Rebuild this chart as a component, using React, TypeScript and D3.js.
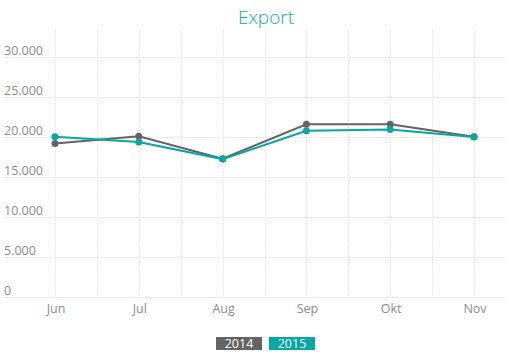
import { useEffect, useRef } from "react";
import * as d3 from "d3";

const months = ["Jun", "Jul", "Aug", "Sep", "Okt", "Nov"];
const values2014 = [19200, 20100, 17300, 21600, 21600, 20050];
const values2015 = [20050, 19400, 17250, 20800, 20950, 20000];
const yTicks = [0, 5000, 10000, 15000, 20000, 25000, 30000];
const seriesNames = ["2014", "2015"];

const colors: { [key: string]: string } = {
  "2014": "#646464",
  "2015": "#06a8a3",
};

const font = "'Open Sans', 'Segoe UI', sans-serif";

export default function App() {
  const svgRef = useRef<SVGSVGElement>(null);

  useEffect(() => {
    if (!svgRef.current) return;
    const width = 508;
    const height = 359;

    d3.select(svgRef.current).selectAll("*").remove();
    const svg = d3
      .select(svgRef.current)
      .attr("width", width)
      .attr("height", height);

    const x = d3.scalePoint<string>().domain(months).range([55, 474]);
    const y = d3.scaleLinear().domain([0, 33400]).range([297, 30]);

    const fmt = d3.formatLocale({
      decimal: ",",
      thousands: ".",
      grouping: [3],
      currency: ["", "€"],
    }).format(",d");

    // Title
    svg
      .append("text")
      .attr("x", 266)
      .attr("y", 24)
      .attr("text-anchor", "middle")
      .attr("fill", "#12aba6")
      .style("font-family", font)
      .style("font-weight", 300)
      .style("font-size", "19px")
      .text("Export");

    // Vertical grid (at categories and in between)
    const step = x.step();
    const vx: number[] = [];
    months.forEach((m, i) => {
      vx.push(x(m) as number);
      if (i < months.length - 1) vx.push((x(m) as number) + step / 2);
    });
    svg
      .append("g")
      .selectAll("line")
      .data(vx)
      .enter()
      .append("line")
      .attr("x1", (d) => Math.round(d) + 0.5)
      .attr("x2", (d) => Math.round(d) + 0.5)
      .attr("y1", y(33400))
      .attr("y2", y(0))
      .attr("stroke", "#e8e8e8")
      .attr("stroke-dasharray", "2,1");

    // Horizontal grid + y labels
    const yAxis = svg.append("g");
    yAxis
      .selectAll("line")
      .data(yTicks)
      .enter()
      .append("line")
      .attr("x1", 4)
      .attr("x2", 508)
      .attr("y1", (d) => Math.round(y(d)) + 0.5)
      .attr("y2", (d) => Math.round(y(d)) + 0.5)
      .attr("stroke", "#e4e4e4")
      .attr("stroke-dasharray", "2,1");

    yAxis
      .selectAll("text")
      .data(yTicks)
      .enter()
      .append("text")
      .attr("x", 4)
      .attr("y", (d) => y(d) - 2)
      .attr("fill", "#8c8c8c")
      .style("font-family", font)
      .style("font-size", "12.5px")
      .text((d) => fmt(d));

    // X labels
    svg
      .append("g")
      .selectAll("text")
      .data(months)
      .enter()
      .append("text")
      .attr("x", (d) => (x(d) as number) + 1)
      .attr("y", 313)
      .attr("text-anchor", "middle")
      .attr("fill", "#8c8c8c")
      .style("font-family", font)
      .style("font-size", "12.5px")
      .text((d) => d);

    // Lines
    const line = d3
      .line<number>()
      .x((_, i) => x(months[i]) as number)
      .y((d) => y(d));

    const series = [
      { name: "2014", values: values2014 },
      { name: "2015", values: values2015 },
    ];

    series.forEach((s) => {
      svg
        .append("path")
        .datum(s.values)
        .attr("d", line)
        .attr("fill", "none")
        .attr("stroke", colors[s.name])
        .attr("stroke-width", 2);

      svg
        .append("g")
        .selectAll("circle")
        .data(s.values)
        .enter()
        .append("circle")
        .attr("cx", (_, i) => x(months[i]) as number)
        .attr("cy", (d) => y(d))
        .attr("r", 3.5)
        .attr("fill", colors[s.name]);
    });

    // Legend
    const legend = svg
      .append("g")
      .attr("transform", "translate(216, 337)");

    const items = legend
      .selectAll("g")
      .data(seriesNames)
      .enter()
      .append("g")
      .attr("transform", (_, i) => `translate(${i * 53}, 0)`);

    items
      .append("rect")
      .attr("width", 46)
      .attr("height", 13)
      .attr("fill", (d) => colors[d]);

    items
      .append("text")
      .attr("x", 23)
      .attr("y", 11)
      .attr("text-anchor", "middle")
      .attr("fill", "#ffffff")
      .style("font-family", font)
      .style("font-size", "12.5px")
      .text((d) => d);
  }, []);

  return (
    <svg
      ref={svgRef}
      style={{ position: "absolute", left: 0, top: 0, background: "#fff" }}
    />
  );
}
